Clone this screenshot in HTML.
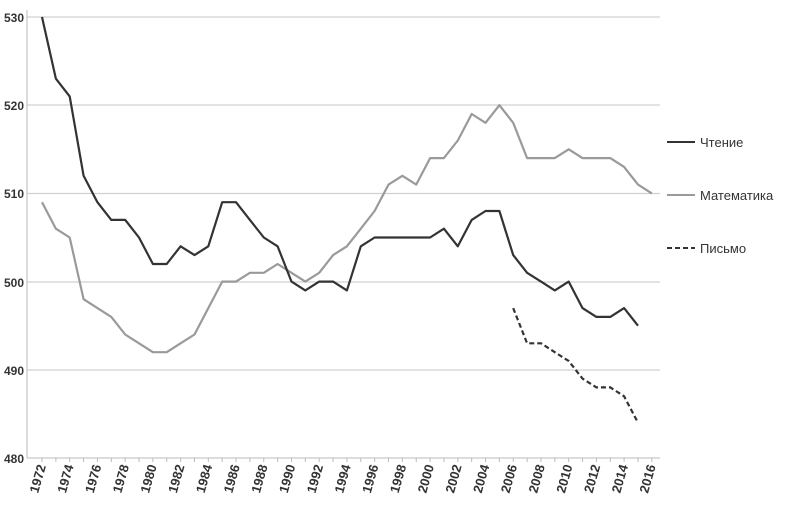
<!DOCTYPE html><html><head><meta charset="utf-8"><style>body{margin:0;background:#fff}</style></head><body>
<svg width="790" height="501" xmlns="http://www.w3.org/2000/svg" font-family="Liberation Sans, sans-serif">
<g stroke="#d0d0d0" stroke-width="1.2">
<line x1="27" x2="660" y1="17" y2="17"/><line x1="27" x2="660" y1="105" y2="105"/><line x1="27" x2="660" y1="193.5" y2="193.5"/><line x1="27" x2="660" y1="282" y2="282"/><line x1="27" x2="660" y1="370" y2="370"/>
</g>
<line x1="27" y1="10" x2="27" y2="458" stroke="#bbb"/>
<line x1="27" y1="458" x2="660" y2="458" stroke="#bbb"/>
<g id="ticks" stroke="#bbb"></g>
<g font-size="12" font-weight="bold" fill="#333" text-anchor="end">
<text x="24" y="22">530</text><text x="24" y="110">520</text><text x="24" y="198">510</text><text x="24" y="287">500</text><text x="24" y="375">490</text><text x="24" y="463">480</text>
</g>
<g id="xl" font-size="13" font-weight="bold" fill="#333" text-anchor="end"></g>
<polyline id="m" fill="none" stroke="#9a9a9a" stroke-width="2.2" stroke-linejoin="round"/>
<polyline id="r" fill="none" stroke="#333" stroke-width="2.2" stroke-linejoin="round"/>
<polyline id="w" fill="none" stroke="#333" stroke-width="2.2" stroke-dasharray="5,3"/>
<line x1="667" x2="695" y1="142" y2="142" stroke="#333" stroke-width="2"/>
<line x1="667" x2="695" y1="195" y2="195" stroke="#9a9a9a" stroke-width="2"/>
<line x1="667" x2="695" y1="248" y2="248" stroke="#333" stroke-width="2" stroke-dasharray="5,3"/>
<g font-size="13" fill="#333"><text x="700" y="147">Чтение</text><text x="700" y="200">Математика</text><text x="700" y="253">Письмо</text></g>
</svg>
<script>
const X=y=>42+(y-1972)*13.86, Y=v=>458-(v-480)*8.82;
const R=[530,523,521,512,509,507,507,505,502,502,504,503,504,509,509,507,505,504,500,499,500,500,499,504,505,505,505,505,505,506,504,507,508,508,503,501,500,499,500,497,496,496,497,495];
const M=[509,506,505,498,497,496,494,493,492,492,493,494,497,500,500,501,501,502,501,500,501,503,504,506,508,511,512,511,514,514,516,519,518,520,518,514,514,514,515,514,514,514,513,511,510];
const W=[497,493,493,492,491,489,488,488,487,484];
const p=(a,s)=>a.map((v,i)=>X(s+i).toFixed(1)+","+Y(v).toFixed(1)).join(" ");
document.getElementById('r').setAttribute('points',p(R,1972));
document.getElementById('m').setAttribute('points',p(M,1972));
document.getElementById('w').setAttribute('points',p(W,2006));
let t='',l='';
for(let y=1972;y<=2016;y++){t+=`<line x1="${X(y)}" x2="${X(y)}" y1="458" y2="462"/>`;
if(y%2==0){const x=X(y)+4,yy=466;l+=`<text x="${x}" y="${yy}" transform="rotate(-74 ${x} ${yy})">${y}</text>`;}}
document.getElementById('ticks').innerHTML=t;document.getElementById('xl').innerHTML=l;
</script>
</body></html>
